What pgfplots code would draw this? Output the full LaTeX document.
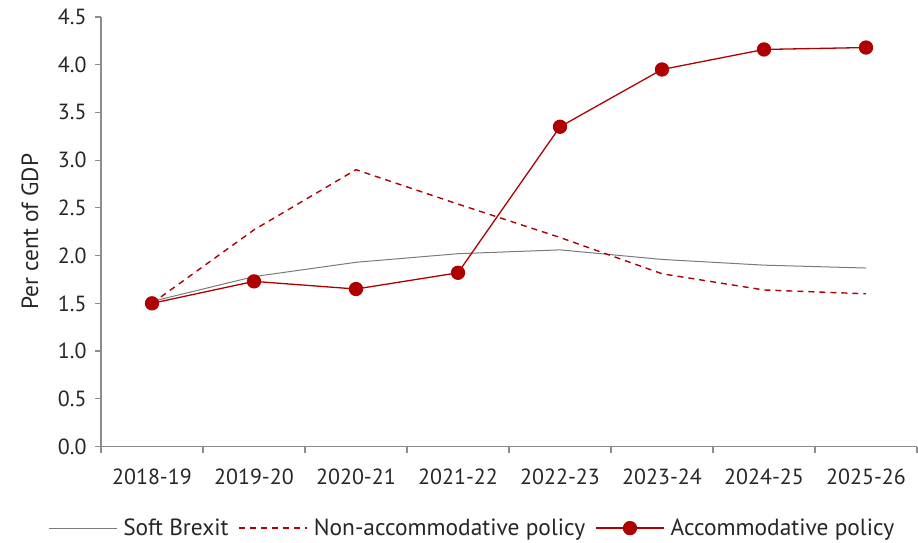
\documentclass[border=0pt]{standalone}
\usepackage{pgfplots}
\pgfplotsset{compat=1.18}
\usepackage{fontspec}
\setmainfont{PT Sans}
\definecolor{obrred}{HTML}{AE0000}
\definecolor{axisgrey}{HTML}{8C8C8C}
\definecolor{softgrey}{HTML}{7A7A7A}
\definecolor{labelgrey}{HTML}{262626}

\begin{document}
\begin{tikzpicture}
\begin{axis}[
  name=ax,
  scale only axis,
  width=816bp, height=429.5bp,
  xmin=-0.5, xmax=7.5,
  ymin=0, ymax=4.5,
  ytick={0,0.5,...,4.5},
  yticklabel style={xshift=-5bp},
  y tick label style={/pgf/number format/fixed, /pgf/number format/fixed zerofill,
    /pgf/number format/precision=1},
  /pgf/number format/assume math mode=true,
  xtick={0,...,7},
  xticklabels={2018-19,2019-20,2020-21,2021-22,2022-23,2023-24,2024-25,2025-26},
  minor xtick={-0.5,0.5,...,7.5},
  axis x line*=bottom,
  axis y line*=left,
  axis line style={axisgrey, line width=1.2bp, -},
  major x tick style={draw=none},
  minor x tick style={axisgrey, line width=1.2bp},
  y tick style={axisgrey, line width=1.2bp},
  tick align=outside,
  major tick length=6bp,
  minor tick length=6bp,
  ticklabel style={font=\fontsize{22}{25}\selectfont, text=labelgrey},
  xticklabel style={yshift=-13bp},
  ylabel={Per cent of GDP},
  ylabel style={font=\fontsize{23.5}{26}\selectfont, text=labelgrey,
    at={(axis description cs:-0.087,0.5)}, anchor=center},
  legend columns=3,
  legend style={
    at={(0.455,-0.19)}, anchor=center, draw=none, fill=none,
    font=\fontsize{23.5}{26}\selectfont, text=labelgrey,
    inner sep=0pt,
    /tikz/every even column/.append style={column sep=8bp},
    /tikz/every odd column/.append style={column sep=4bp},
  },
  legend image code/.code={
    \draw[#1] (0bp,0bp) -- (68bp,0bp);
    \draw[#1, only marks] plot coordinates {(34bp,0bp)};
  },
  clip=false,
]
% Soft Brexit baseline
\addplot[softgrey, line width=1bp, mark=none] coordinates {
  (0,1.52) (1,1.78) (2,1.93) (3,2.02) (4,2.06) (5,1.96) (6,1.90) (7,1.87)
};
\addlegendentry{Soft Brexit}
% Non-accommodative policy
\addplot[obrred, line width=1.4bp, dash pattern=on 6bp off 5bp, mark=none] coordinates {
  (0,1.50) (1,2.27) (2,2.90) (3,2.54) (4,2.19) (5,1.81) (6,1.64) (7,1.60)
};
\addlegendentry{Non-accommodative policy}
% Accommodative policy
\addplot[obrred, line width=1.3bp, mark=*, mark size=6.5bp,
  mark options={solid, fill=obrred, draw=obrred}] coordinates {
  (0,1.50) (1,1.73) (2,1.65) (3,1.82) (4,3.35) (5,3.95) (6,4.16) (7,4.18)
};
\addlegendentry{Accommodative policy}
\end{axis}
\pgfresetboundingbox
\path[use as bounding box] ([xshift=-101bp,yshift=-96.5bp]ax.south west)
  rectangle ([xshift=1bp,yshift=17bp]ax.north east);
\end{tikzpicture}
\end{document}
